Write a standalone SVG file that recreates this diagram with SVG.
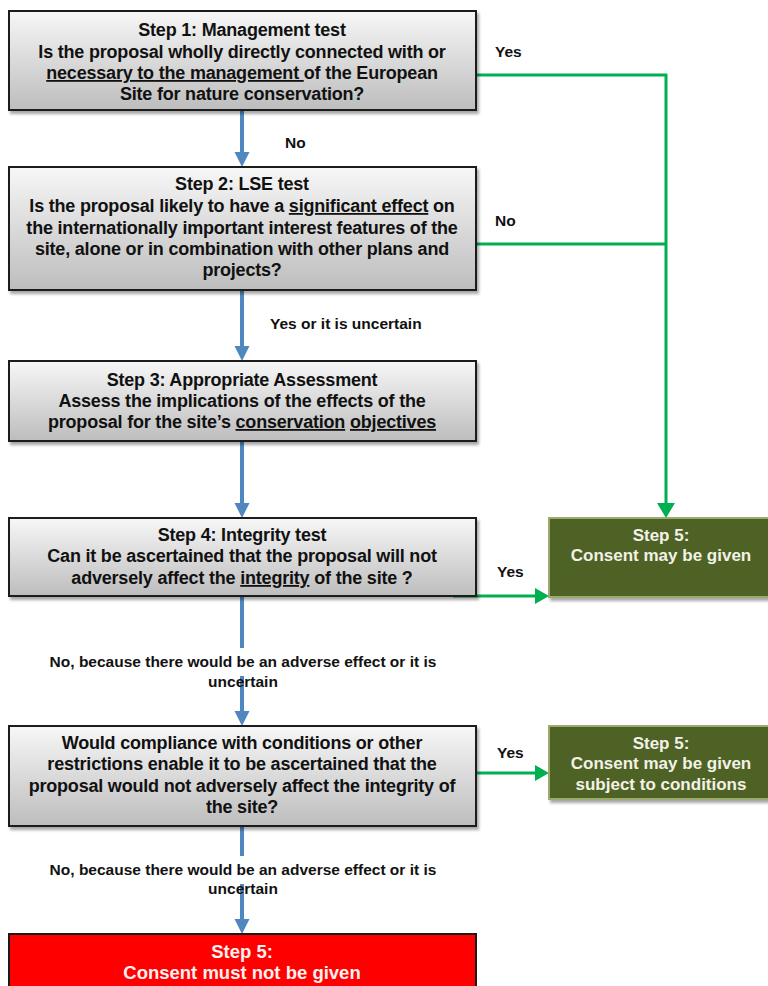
<svg xmlns="http://www.w3.org/2000/svg" width="768" height="986" viewBox="0 0 768 986">
<defs>
<linearGradient id="gray" x1="0" y1="0" x2="0" y2="1">
<stop offset="0" stop-color="#f7f7f7"/>
<stop offset="1" stop-color="#bdbdbd"/>
</linearGradient>
<filter id="sh" x="-5%" y="-5%" width="110%" height="120%">
<feDropShadow dx="2" dy="3" stdDeviation="1.5" flood-color="#000" flood-opacity="0.35"/>
</filter>
<style>
.box{fill:url(#gray);stroke:#1a1a1a;stroke-width:2;filter:url(#sh)}
.gbox{fill:#4f6228;stroke:#9bab6e;stroke-width:2;filter:url(#sh)}
.rbox{fill:#ff0000;stroke:#1a1a1a;stroke-width:2}
.t{font-family:"Liberation Sans",Arial,sans-serif;font-weight:bold;font-size:18px;fill:#111;text-anchor:middle;letter-spacing:-0.2px}
.gt{font-family:"Liberation Sans",Arial,sans-serif;font-weight:bold;font-size:17px;fill:#f2f2e6;text-anchor:middle}
.rt{font-family:"Liberation Sans",Arial,sans-serif;font-weight:bold;font-size:18.5px;fill:#fff0f0;text-anchor:middle}
.l{font-family:"Liberation Sans",Arial,sans-serif;font-weight:bold;font-size:15.5px;fill:#111}
.lc{font-family:"Liberation Sans",Arial,sans-serif;font-weight:bold;font-size:15.5px;fill:#111;text-anchor:middle}
.u{text-decoration:underline}
.bl{stroke:#4f88c1;stroke-width:4;fill:none}
.bh{fill:#4f88c1}
.gl{stroke:#00b050;stroke-width:3;fill:none}
.gh{fill:#00b050}
</style>
</defs>

<g id="connectors">
<path class="bl" d="M242,111 V154"/>
<polygon class="bh" points="234.5,152 249.5,152 242,167"/>
<path class="bl" d="M242,291 V348"/>
<polygon class="bh" points="234.5,346 249.5,346 242,361"/>
<path class="bl" d="M242,442 V505"/>
<polygon class="bh" points="234.5,503 249.5,503 242,518"/>
<path class="bl" d="M242,597 V648 M242,676 V713"/>
<polygon class="bh" points="234.5,711 249.5,711 242,726"/>
<path class="bl" d="M242,827 V856 M242,884 V921"/>
<polygon class="bh" points="234.5,919 249.5,919 242,934"/>
<path class="gl" d="M477,75 H666 V505"/>
<polygon class="gh" points="657,503 675,503 666,518"/>
<path class="gl" d="M477,244 H666"/>
<path class="gl" d="M453,596 H537"/>
<polygon class="gh" points="535,588 535,604 549,596"/>
<path class="gl" d="M477,773 H537"/>
<polygon class="gh" points="535,765 535,781 549,773"/>
<text class="l" x="495" y="57">Yes</text>
<text class="l" x="285" y="148">No</text>
<text class="l" x="495" y="226">No</text>
<text class="l" x="270" y="329">Yes or it is uncertain</text>
<text class="l" x="497" y="577">Yes</text>
<text class="l" x="497" y="758">Yes</text>
<text class="lc" x="243" y="667">No, because there would be an adverse effect or it is</text>
<text class="lc" x="243" y="687">uncertain</text>
<text class="lc" x="243" y="875">No, because there would be an adverse effect or it is</text>
<text class="lc" x="243" y="894">uncertain</text>
</g>

<g id="step1">
<rect class="box" x="9" y="11" width="467" height="99"/>
<text class="t" x="242" y="36">Step 1: Management test</text>
<text class="t" x="242" y="58">Is the proposal wholly directly connected with or</text>
<text class="t" x="242" y="79"><tspan class="u">necessary to the  management </tspan>of the European</text>
<text class="t" x="242" y="100">Site for nature conservation?</text>
</g>

<g id="step2">
<rect class="box" x="9" y="167" width="467" height="123"/>
<text class="t" x="242" y="190">Step 2: LSE test</text>
<text class="t" x="242" y="212">Is the proposal likely to have a <tspan class="u">significant effect</tspan> on</text>
<text class="t" x="242" y="234">the internationally important interest features of the</text>
<text class="t" x="242" y="255">site, alone or in combination with other plans and</text>
<text class="t" x="242" y="276">projects?</text>
</g>

<g id="step3">
<rect class="box" x="9" y="361" width="467" height="80"/>
<text class="t" x="242" y="386">Step 3: Appropriate Assessment</text>
<text class="t" x="242" y="407">Assess the implications of the effects of the</text>
<text class="t" x="242" y="428">proposal for the site’s <tspan class="u">conservation</tspan> <tspan class="u">objectives</tspan></text>
</g>

<g id="step4">
<rect class="box" x="9" y="518" width="467" height="78"/>
<text class="t" x="242" y="541">Step 4: Integrity test</text>
<text class="t" x="242" y="562">Can it be ascertained that the proposal will not</text>
<text class="t" x="242" y="584">adversely affect the <tspan class="u">integrity</tspan> of the site ?</text>
</g>

<g id="step5-given">
<rect class="gbox" x="549" y="518" width="222" height="79"/>
<text class="gt" x="661" y="541">Step 5:</text>
<text class="gt" x="661" y="561">Consent may be given</text>
</g>

<g id="conditions">
<rect class="box" x="9" y="726" width="467" height="100"/>
<text class="t" x="242" y="749">Would compliance with conditions or other</text>
<text class="t" x="242" y="770">restrictions enable it to be ascertained that the</text>
<text class="t" x="242" y="792">proposal would not adversely affect the integrity of</text>
<text class="t" x="242" y="813">the site?</text>
</g>

<g id="step5-conditions">
<rect class="gbox" x="549" y="726" width="222" height="73"/>
<text class="gt" x="661" y="749">Step 5:</text>
<text class="gt" x="661" y="769">Consent may be given</text>
<text class="gt" x="661" y="790">subject  to  conditions</text>
</g>

<g id="step5-refused">
<rect class="rbox" x="9" y="934" width="467" height="60"/>
<text class="rt" x="242" y="958">Step 5:</text>
<text class="rt" x="242" y="979">Consent must not be given</text>
</g>
</svg>
